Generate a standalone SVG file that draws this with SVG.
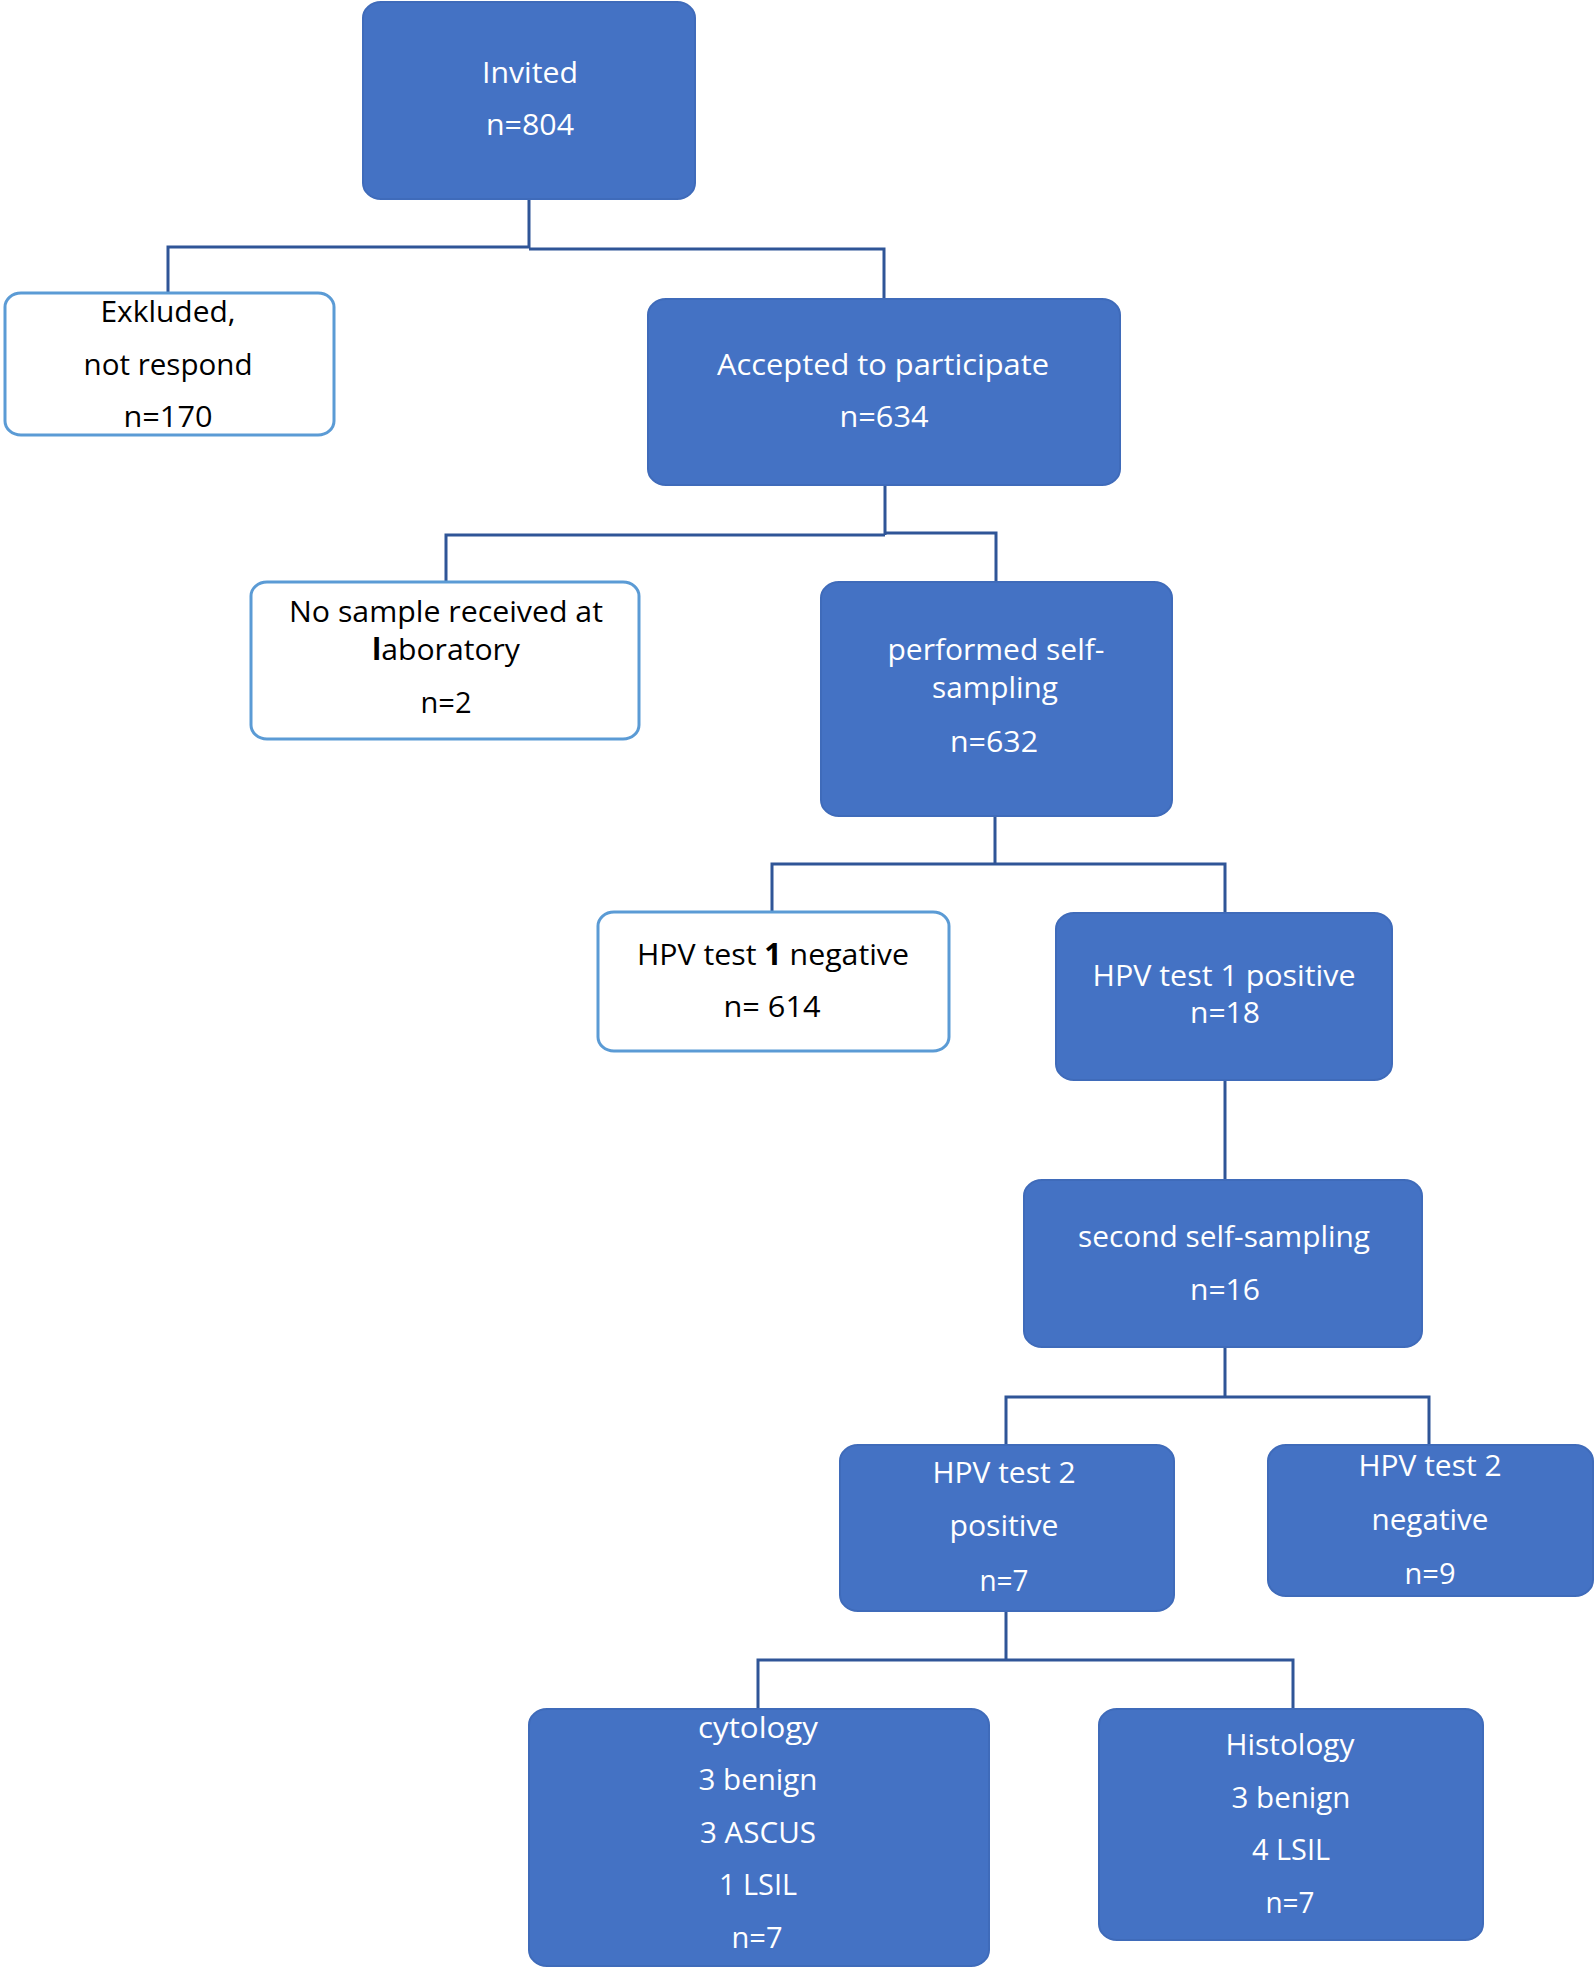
<svg xmlns="http://www.w3.org/2000/svg" width="1594" height="1969" viewBox="0 0 1594 1969">
<style>
.bf{fill:#4472C4;stroke:#3F6BBA;stroke-width:2}
.wf{fill:#FFFFFF;stroke:#5B9BD5;stroke-width:3}
.t{font-family:"Open Sans","Noto Sans","Liberation Sans",sans-serif;font-size:30px;text-anchor:middle}
.w{fill:#FFFFFF}
.k{fill:#000000}
.c{fill:none;stroke:#2F5597;stroke-width:3}
</style>
<rect width="1594" height="1969" fill="#FFFFFF"/>
<g id="connectors">
<path class="c" d="M529,199 V248 M168,293 V247 H530 M529,249 H884 V299"/>
<path class="c" d="M885,485 V535 M446,581 V535 H885 M885,533 H996 V582"/>
<path class="c" d="M995,816 V864 M772,912 V864 H1225 V913"/>
<path class="c" d="M1225,1080 V1180"/>
<path class="c" d="M1225,1347 V1397 M1006,1445 V1397 H1429 V1445"/>
<path class="c" d="M1006,1611 V1660 M758,1709 V1660 H1293 V1709"/>
</g>
<g id="invited">
<rect class="bf" x="363" y="2" width="332" height="197" rx="18" ry="16"/>
<text class="t w" x="530" y="83" textLength="96" lengthAdjust="spacingAndGlyphs">Invited</text>
<text class="t w" x="530" y="135" textLength="88" lengthAdjust="spacingAndGlyphs">n=804</text>
</g>
<g id="excluded">
<rect class="wf" x="5" y="293" width="329" height="142" rx="16" ry="14"/>
<text class="t k" x="168" y="322" textLength="135" lengthAdjust="spacingAndGlyphs">Exkluded,</text>
<text class="t k" x="168" y="375" textLength="169" lengthAdjust="spacingAndGlyphs">not respond</text>
<text class="t k" x="168" y="427" textLength="89" lengthAdjust="spacingAndGlyphs">n=170</text>
</g>
<g id="accepted">
<rect class="bf" x="648" y="299" width="472" height="186" rx="18" ry="16"/>
<text class="t w" x="883" y="375" textLength="332" lengthAdjust="spacingAndGlyphs">Accepted to participate</text>
<text class="t w" x="884" y="427" textLength="89" lengthAdjust="spacingAndGlyphs">n=634</text>
</g>
<g id="nosample">
<rect class="wf" x="251" y="582" width="388" height="157" rx="16" ry="14"/>
<text class="t k" x="446" y="622" textLength="314" lengthAdjust="spacingAndGlyphs">No sample received at</text>
<text class="t k" x="446" y="660" textLength="148" lengthAdjust="spacingAndGlyphs"><tspan font-weight="bold">l</tspan>aboratory</text>
<text class="t k" x="446" y="713" textLength="51" lengthAdjust="spacingAndGlyphs">n=2</text>
</g>
<g id="performed">
<rect class="bf" x="821" y="582" width="351" height="234" rx="18" ry="16"/>
<text class="t w" x="996" y="660" textLength="217" lengthAdjust="spacingAndGlyphs">performed self-</text>
<text class="t w" x="995" y="698" textLength="126" lengthAdjust="spacingAndGlyphs">sampling</text>
<text class="t w" x="994" y="752" textLength="88" lengthAdjust="spacingAndGlyphs">n=632</text>
</g>
<g id="hpv1neg">
<rect class="wf" x="598" y="912" width="351" height="139" rx="16" ry="14"/>
<text class="t k" x="773" y="965" textLength="272" lengthAdjust="spacingAndGlyphs">HPV test <tspan font-weight="bold">1</tspan> negative</text>
<text class="t k" x="772" y="1017" textLength="97" lengthAdjust="spacingAndGlyphs">n= 614</text>
</g>
<g id="hpv1pos">
<rect class="bf" x="1056" y="913" width="336" height="167" rx="18" ry="16"/>
<text class="t w" x="1224" y="986" textLength="263" lengthAdjust="spacingAndGlyphs">HPV test 1 positive</text>
<text class="t w" x="1225" y="1023" textLength="70" lengthAdjust="spacingAndGlyphs">n=18</text>
</g>
<g id="second">
<rect class="bf" x="1024" y="1180" width="398" height="167" rx="18" ry="16"/>
<text class="t w" x="1224" y="1247" textLength="292" lengthAdjust="spacingAndGlyphs">second self-sampling</text>
<text class="t w" x="1225" y="1300" textLength="70" lengthAdjust="spacingAndGlyphs">n=16</text>
</g>
<g id="hpv2pos">
<rect class="bf" x="840" y="1445" width="334" height="166" rx="18" ry="16"/>
<text class="t w" x="1004" y="1483" textLength="143" lengthAdjust="spacingAndGlyphs">HPV test 2</text>
<text class="t w" x="1004" y="1536" textLength="109" lengthAdjust="spacingAndGlyphs">positive</text>
<text class="t w" x="1004" y="1591" textLength="49" lengthAdjust="spacingAndGlyphs">n=7</text>
</g>
<g id="hpv2neg">
<rect class="bf" x="1268" y="1445" width="325" height="151" rx="18" ry="16"/>
<text class="t w" x="1430" y="1476" textLength="143" lengthAdjust="spacingAndGlyphs">HPV test 2</text>
<text class="t w" x="1430" y="1530" textLength="117" lengthAdjust="spacingAndGlyphs">negative</text>
<text class="t w" x="1430" y="1584" textLength="51" lengthAdjust="spacingAndGlyphs">n=9</text>
</g>
<g id="cytology">
<rect class="bf" x="529" y="1709" width="460" height="257" rx="18" ry="16"/>
<text class="t w" x="758" y="1738" textLength="120" lengthAdjust="spacingAndGlyphs">cytology</text>
<text class="t w" x="758" y="1790" textLength="119" lengthAdjust="spacingAndGlyphs">3 benign</text>
<text class="t w" x="758" y="1843" textLength="116" lengthAdjust="spacingAndGlyphs">3 ASCUS</text>
<text class="t w" x="758" y="1895" textLength="78" lengthAdjust="spacingAndGlyphs">1 LSIL</text>
<text class="t w" x="757" y="1948" textLength="51" lengthAdjust="spacingAndGlyphs">n=7</text>
</g>
<g id="histology">
<rect class="bf" x="1099" y="1709" width="384" height="231" rx="18" ry="16"/>
<text class="t w" x="1290" y="1755" textLength="129" lengthAdjust="spacingAndGlyphs">Histology</text>
<text class="t w" x="1291" y="1808" textLength="119" lengthAdjust="spacingAndGlyphs">3 benign</text>
<text class="t w" x="1291" y="1860" textLength="78" lengthAdjust="spacingAndGlyphs">4 LSIL</text>
<text class="t w" x="1290" y="1913" textLength="49" lengthAdjust="spacingAndGlyphs">n=7</text>
</g>
</svg>
